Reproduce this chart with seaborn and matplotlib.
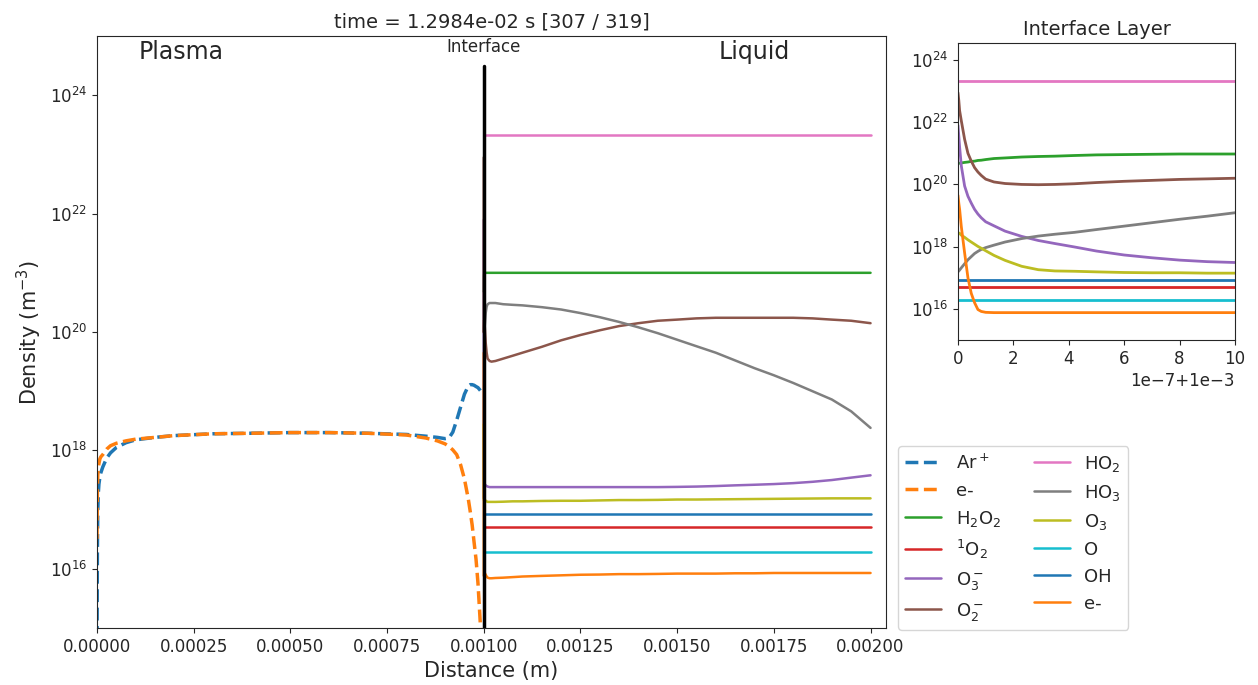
import matplotlib
matplotlib.use("Agg")
import matplotlib.pyplot as plt
import matplotlib.ticker as mticker
import pandas as pd
import seaborn as sns

# ---- plasma side (0 .. 1 mm) ----
plasma_x = [0.0, 1e-6, 2e-6, 3.5e-6, 5e-6, 7.5e-6, 1e-5, 1.5e-5, 2.5e-5, 3.5e-5, 5e-5,
            7.5e-5, 1e-4, 1.5e-4, 2e-4, 3e-4, 4e-4, 5e-4, 6e-4, 7e-4, 8e-4, 8.5e-4,
            8.8e-4, 9e-4, 9.1e-4, 9.2e-4, 9.3e-4, 9.4e-4, 9.5e-4, 9.6e-4, 9.65e-4,
            9.7e-4, 9.75e-4, 9.8e-4, 9.85e-4, 9.9e-4, 9.95e-4, 1e-3]
ar_plus = [3.2e14, 2.0e16, 8.9e16, 1.95e17, 2.7e17, 3.55e17, 4.2e17, 5.25e17, 7.4e17,
           9.1e17, 1.12e18, 1.35e18, 1.51e18, 1.66e18, 1.78e18, 1.91e18, 1.95e18,
           2.0e18, 2.0e18, 1.95e18, 1.86e18, 1.74e18, 1.66e18, 1.58e18, 1.62e18,
           2.04e18, 3.24e18, 5.37e18, 8.9e18, 1.23e19, 1.29e19, 1.29e19, 1.26e19,
           1.2e19, 1.15e19, 1.05e19, 9.55e18, 9.1e18]
e_plasma = [3.2e16, 2.0e17, 3.8e17, 5.0e17, 6.0e17, 7.2e17, 7.8e17, 8.5e17, 1.05e18,
            1.2e18, 1.32e18, 1.45e18, 1.55e18, 1.66e18, 1.78e18, 1.91e18, 1.95e18,
            2.0e18, 2.0e18, 1.95e18, 1.82e18, 1.62e18, 1.45e18, 1.29e18, 1.17e18,
            1.02e18, 8.5e17, 5.75e17, 3.3e17, 1.51e17, 9.3e16, 5.5e16, 2.8e16,
            1.45e16, 5.75e15, 1.58e15, 4.0e14, 1.0e14]

# ---- liquid side (1 .. 2 mm), fine mesh in the first micron ----
liquid_x = [1.0e-3, 1.000003e-3, 1.000006e-3, 1.000012e-3, 1.000024e-3, 1.000036e-3,
            1.000048e-3, 1.00006e-3, 1.000072e-3, 1.000084e-3, 1.0001e-3, 1.00013e-3,
            1.00017e-3, 1.00023e-3, 1.00029e-3, 1.00035e-3, 1.00042e-3, 1.0005e-3,
            1.0006e-3, 1.0007e-3, 1.0008e-3, 1.0009e-3, 1.001e-3,
            1.0025e-3, 1.005e-3, 1.0075e-3, 1.01e-3, 1.015e-3, 1.02e-3, 1.03e-3,
            1.05e-3, 1.075e-3, 1.1e-3, 1.15e-3, 1.2e-3, 1.25e-3, 1.3e-3, 1.35e-3,
            1.4e-3, 1.45e-3, 1.5e-3, 1.55e-3, 1.6e-3, 1.65e-3, 1.7e-3, 1.75e-3,
            1.8e-3, 1.85e-3, 1.9e-3, 1.95e-3, 2.0e-3]

h2o2 = [4.8e20, 4.8e20, 4.8e20, 4.9e20, 5.1e20, 5.25e20, 5.5e20, 5.6e20, 5.9e20, 6.0e20,
        6.3e20, 6.8e20, 7.1e20, 7.6e20, 7.9e20, 8.1e20, 8.5e20, 8.9e20, 9.1e20, 9.3e20,
        9.5e20, 9.5e20, 9.5e20,
        9.8e20, 1.0e21, 1.0e21, 1.0e21, 1.0e21, 1.0e21, 1.0e21, 1.0e21, 1.0e21, 1.0e21,
        1.0e21, 1.0e21, 1.0e21, 1.0e21, 1.0e21, 1.0e21, 1.0e21, 1.0e21, 1.0e21, 1.0e21,
        1.0e21, 1.0e21, 1.0e21, 1.0e21, 1.0e21, 1.0e21, 1.0e21, 1.0e21]
singlet_o2 = [5.0e16] * len(liquid_x)
o3_minus = [7.9e21, 3.55e21, 1.58e21, 3.98e20, 8.9e19, 4.17e19, 2.51e19, 1.58e19,
            1.12e19, 8.5e18, 6.31e18, 4.68e18, 3.16e18, 2.14e18, 1.58e18, 1.26e18,
            9.8e17, 7.24e17, 5.4e17, 4.4e17, 3.7e17, 3.3e17, 3.1e17,
            2.7e17, 2.57e17, 2.5e17, 2.45e17, 2.4e17, 2.4e17, 2.4e17, 2.4e17, 2.4e17,
            2.4e17, 2.4e17, 2.4e17, 2.4e17, 2.4e17, 2.4e17, 2.4e17, 2.4e17, 2.42e17,
            2.45e17, 2.5e17, 2.57e17, 2.63e17, 2.7e17, 2.8e17, 2.95e17, 3.16e17,
            3.47e17, 3.8e17]
o2_minus = [8.9e22, 5.0e22, 2.34e22, 1.12e22, 2.82e21, 1.0e21, 5.62e20, 3.47e20, 2.51e20,
            1.95e20, 1.48e20, 1.2e20, 1.07e20, 1.0e20, 9.8e19, 1.0e20, 1.05e20,
            1.15e20, 1.26e20, 1.35e20, 1.45e20, 1.51e20, 1.58e20,
            1.26e20, 6.6e19, 4.47e19, 3.55e19, 3.24e19, 3.16e19, 3.24e19, 3.55e19,
            3.98e19, 4.47e19, 5.62e19, 7.24e19, 8.9e19, 1.07e20, 1.26e20, 1.41e20,
            1.55e20, 1.62e20, 1.7e20, 1.74e20, 1.74e20, 1.74e20, 1.74e20, 1.74e20,
            1.7e20, 1.62e20, 1.55e20, 1.41e20]
ho2 = [2.1e23] * len(liquid_x)
ho3 = [1.55e17, 1.66e17, 1.78e17, 2.09e17, 2.82e17, 3.8e17, 4.79e17, 6.03e17, 7.08e17,
       8.13e17, 9.33e17, 1.12e18, 1.41e18, 1.82e18, 2.19e18, 2.51e18, 2.88e18, 3.55e18,
       4.57e18, 5.89e18, 7.59e18, 9.55e18, 1.23e19,
       1.26e20, 2.09e20, 2.69e20, 2.95e20, 3.09e20, 3.09e20, 3.09e20, 2.95e20, 2.88e20,
       2.82e20, 2.63e20, 2.4e20, 2.09e20, 1.78e20, 1.48e20, 1.2e20, 9.55e19, 7.41e19,
       5.75e19, 4.47e19, 3.31e19, 2.45e19, 1.86e19, 1.38e19, 1.0e19, 7.24e18, 4.57e18,
       2.4e18]
o3 = [2.75e18, 2.75e18, 2.69e18, 2.34e18, 2.0e18, 1.66e18, 1.41e18, 1.2e18, 1.02e18,
      8.9e17, 7.4e17, 5.25e17, 3.63e17, 2.34e17, 1.82e17, 1.66e17, 1.62e17, 1.55e17,
      1.48e17, 1.45e17, 1.45e17, 1.41e17, 1.41e17,
      1.48e17, 1.41e17, 1.38e17, 1.35e17, 1.35e17, 1.35e17, 1.35e17, 1.36e17, 1.38e17,
      1.38e17, 1.4e17, 1.41e17, 1.41e17, 1.43e17, 1.45e17, 1.45e17, 1.46e17, 1.48e17,
      1.48e17, 1.49e17, 1.5e17, 1.51e17, 1.52e17, 1.53e17, 1.54e17, 1.55e17, 1.55e17,
      1.55e17]
o_atom = [1.9e16] * len(liquid_x)
oh = [8.5e16] * len(liquid_x)
e_liquid = [4.47e19, 2.51e19, 1.58e19, 4.47e18, 6.31e17, 1.0e17, 3.16e16, 1.58e16,
            9.55e15, 8.3e15, 7.76e15, 7.6e15, 7.6e15, 7.6e15, 7.6e15, 7.6e15, 7.6e15,
            7.6e15, 7.6e15, 7.6e15, 7.6e15, 7.6e15, 7.6e15,
            8.5e15, 7.94e15, 7.41e15, 7.08e15, 6.92e15, 6.92e15, 7.0e15, 7.08e15,
            7.24e15, 7.41e15, 7.59e15, 7.76e15, 7.94e15, 8.0e15, 8.13e15, 8.13e15,
            8.2e15, 8.3e15, 8.3e15, 8.3e15, 8.4e15, 8.4e15, 8.5e15, 8.5e15, 8.5e15,
            8.5e15, 8.5e15, 8.5e15]

plasma_species = [(r"Ar$^+$", ar_plus), ("e-", e_plasma)]
liquid_species = [(r"H$_2$O$_2$", h2o2), (r"$^1$O$_2$", singlet_o2),
                  (r"O$_3^-$", o3_minus), (r"O$_2^-$", o2_minus), (r"HO$_2$", ho2),
                  (r"HO$_3$", ho3), (r"O$_3$", o3), ("O", o_atom), ("OH", oh),
                  ("e-", e_liquid)]

sns.set_style("ticks")
plt.rcParams["font.family"] = ["DejaVu Sans"]
colors = sns.color_palette("tab10", 10)

fig = plt.figure(figsize=(12.58, 6.85), dpi=100)
ax = fig.add_axes([0.0771, 0.0832, 0.6272, 0.8642])
axin = fig.add_axes([0.7615, 0.5036, 0.2202, 0.4336])

for i, (name, vals) in enumerate(plasma_species):
    df = pd.DataFrame({"x": plasma_x, "n": vals})
    sns.lineplot(data=df, x="x", y="n", ax=ax, color=colors[i], lw=2.5,
                 linestyle="--", label=name)

for i, (name, vals) in enumerate(liquid_species):
    df = pd.DataFrame({"x": liquid_x, "n": vals})
    c = colors[(i + 2) % 10]
    sns.lineplot(data=df, x="x", y="n", ax=ax, color=c, lw=1.8, label=name)
    sns.lineplot(data=df, x="x", y="n", ax=axin, color=c, lw=2)

ax.axvline(1e-3, ymax=0.95, color="k", lw=2.5, zorder=5)
ax.text(1e-3, 0.981, "Interface", transform=ax.get_xaxis_transform(),
        ha="center", va="center", fontsize=12)
ax.text(0.000217, 0.973, "Plasma", transform=ax.get_xaxis_transform(),
        ha="center", va="center", fontsize=17)
ax.text(0.0017, 0.973, "Liquid", transform=ax.get_xaxis_transform(),
        ha="center", va="center", fontsize=17)

ax.set_yscale("log")
ax.set_xlim(0, 0.00204)
ax.set_ylim(1e15, 1e25)
ax.set_xticks([0, 0.00025, 0.0005, 0.00075, 0.001, 0.00125, 0.0015, 0.00175, 0.002])
ax.xaxis.set_major_formatter(mticker.FormatStrFormatter("%.5f"))
ax.set_yticks([1e16, 1e18, 1e20, 1e22, 1e24])
ax.yaxis.set_minor_locator(mticker.NullLocator())
ax.tick_params(labelsize=12)
ax.set_xlabel("Distance (m)", fontsize=15)
ax.set_ylabel(r"Density (m$^{-3}$)", fontsize=15)
ax.set_title("time = 1.2984e-02 s [307 / 319]", fontsize=14)

handles, labels = ax.get_legend_handles_labels()
ax.legend(handles, labels, ncol=2, fontsize=13, loc="lower left",
          bbox_to_anchor=(0.7138, 0.0803), bbox_transform=fig.transFigure,
          borderaxespad=0, columnspacing=1.8, handlelength=2.0)

axin.set_yscale("log")
axin.set_xlim(1e-3, 1.001e-3)
axin.set_ylim(1e15, 3.5e24)
axin.set_yticks([1e16, 1e18, 1e20, 1e22, 1e24])
axin.yaxis.set_minor_locator(mticker.NullLocator())
axin.set_xlabel("")
axin.set_ylabel("")
axin.tick_params(labelsize=12)
axin.xaxis.get_offset_text().set_fontsize(12)
axin.set_title("Interface Layer", fontsize=14)

fig.savefig("out.png", dpi=100)
